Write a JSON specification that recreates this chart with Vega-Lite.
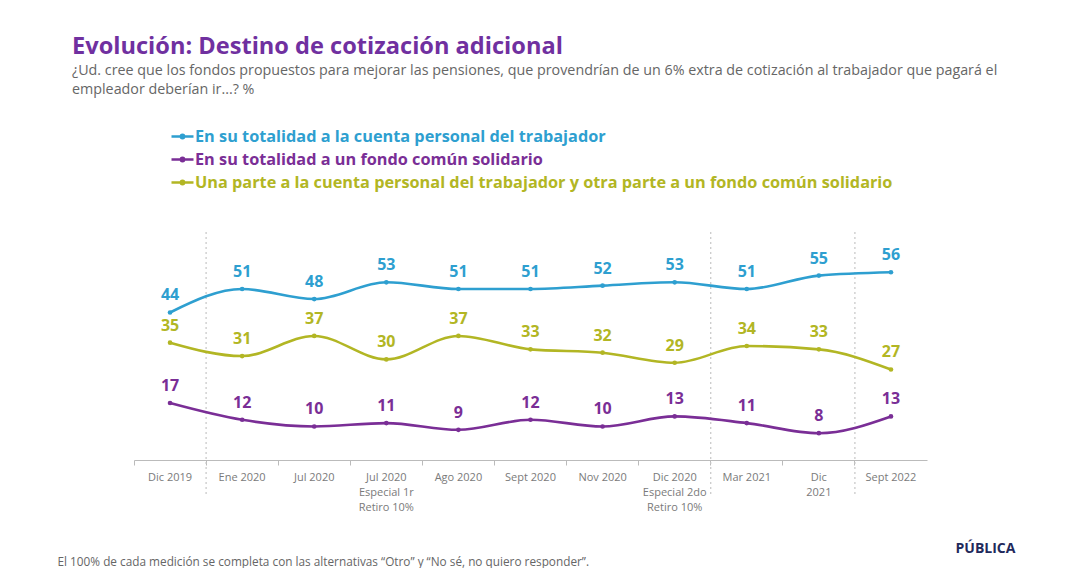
{
  "$schema": "https://vega.github.io/schema/vega-lite/v6.json",
  "autosize": {"type": "none"},
  "width": 793,
  "height": 228,
  "padding": {"left": 134, "top": 232, "right": 153, "bottom": 108},
  "background": "white",
  "config": {
    "view": {"stroke": null},
    "font": "Open Sans"
  },
  "title": {
    "text": "Evolución: Destino de cotización adicional",
    "subtitle": ["¿Ud. cree que los fondos propuestos para mejorar las pensiones, que provendrían de un 6% extra de cotización al trabajador que pagará el", "empleador deberían ir...? %"],
    "anchor": "start",
    "frame": "group",
    "dx": -62,
    "offset": 27,
    "font": "Open Sans",
    "fontSize": 23.6,
    "fontWeight": "bold",
    "color": "#7030A0",
    "subtitleFont": "Open Sans",
    "subtitleFontSize": 14.3,
    "subtitleColor": "#666666",
    "subtitleLineHeight": 18.5,
    "subtitlePadding": 6
  },
  "data": {
    "values": [
      {"fecha": "Dic 2019", "serie": "En su totalidad a la cuenta personal del trabajador", "valor": 44},
      {"fecha": "Ene 2020", "serie": "En su totalidad a la cuenta personal del trabajador", "valor": 51},
      {"fecha": "Jul 2020", "serie": "En su totalidad a la cuenta personal del trabajador", "valor": 48},
      {"fecha": "Jul 2020|Especial 1r|Retiro 10%", "serie": "En su totalidad a la cuenta personal del trabajador", "valor": 53},
      {"fecha": "Ago 2020", "serie": "En su totalidad a la cuenta personal del trabajador", "valor": 51},
      {"fecha": "Sept 2020", "serie": "En su totalidad a la cuenta personal del trabajador", "valor": 51},
      {"fecha": "Nov 2020", "serie": "En su totalidad a la cuenta personal del trabajador", "valor": 52},
      {"fecha": "Dic 2020|Especial 2do|Retiro 10%", "serie": "En su totalidad a la cuenta personal del trabajador", "valor": 53},
      {"fecha": "Mar 2021", "serie": "En su totalidad a la cuenta personal del trabajador", "valor": 51},
      {"fecha": "Dic|2021", "serie": "En su totalidad a la cuenta personal del trabajador", "valor": 55},
      {"fecha": "Sept 2022", "serie": "En su totalidad a la cuenta personal del trabajador", "valor": 56},
      {"fecha": "Dic 2019", "serie": "En su totalidad a un fondo común solidario", "valor": 17},
      {"fecha": "Ene 2020", "serie": "En su totalidad a un fondo común solidario", "valor": 12},
      {"fecha": "Jul 2020", "serie": "En su totalidad a un fondo común solidario", "valor": 10},
      {"fecha": "Jul 2020|Especial 1r|Retiro 10%", "serie": "En su totalidad a un fondo común solidario", "valor": 11},
      {"fecha": "Ago 2020", "serie": "En su totalidad a un fondo común solidario", "valor": 9},
      {"fecha": "Sept 2020", "serie": "En su totalidad a un fondo común solidario", "valor": 12},
      {"fecha": "Nov 2020", "serie": "En su totalidad a un fondo común solidario", "valor": 10},
      {"fecha": "Dic 2020|Especial 2do|Retiro 10%", "serie": "En su totalidad a un fondo común solidario", "valor": 13},
      {"fecha": "Mar 2021", "serie": "En su totalidad a un fondo común solidario", "valor": 11},
      {"fecha": "Dic|2021", "serie": "En su totalidad a un fondo común solidario", "valor": 8},
      {"fecha": "Sept 2022", "serie": "En su totalidad a un fondo común solidario", "valor": 13},
      {"fecha": "Dic 2019", "serie": "Una parte a la cuenta personal del trabajador y otra parte a un fondo común solidario", "valor": 35},
      {"fecha": "Ene 2020", "serie": "Una parte a la cuenta personal del trabajador y otra parte a un fondo común solidario", "valor": 31},
      {"fecha": "Jul 2020", "serie": "Una parte a la cuenta personal del trabajador y otra parte a un fondo común solidario", "valor": 37},
      {"fecha": "Jul 2020|Especial 1r|Retiro 10%", "serie": "Una parte a la cuenta personal del trabajador y otra parte a un fondo común solidario", "valor": 30},
      {"fecha": "Ago 2020", "serie": "Una parte a la cuenta personal del trabajador y otra parte a un fondo común solidario", "valor": 37},
      {"fecha": "Sept 2020", "serie": "Una parte a la cuenta personal del trabajador y otra parte a un fondo común solidario", "valor": 33},
      {"fecha": "Nov 2020", "serie": "Una parte a la cuenta personal del trabajador y otra parte a un fondo común solidario", "valor": 32},
      {"fecha": "Dic 2020|Especial 2do|Retiro 10%", "serie": "Una parte a la cuenta personal del trabajador y otra parte a un fondo común solidario", "valor": 29},
      {"fecha": "Mar 2021", "serie": "Una parte a la cuenta personal del trabajador y otra parte a un fondo común solidario", "valor": 34},
      {"fecha": "Dic|2021", "serie": "Una parte a la cuenta personal del trabajador y otra parte a un fondo común solidario", "valor": 33},
      {"fecha": "Sept 2022", "serie": "Una parte a la cuenta personal del trabajador y otra parte a un fondo común solidario", "valor": 27}
    ]
  },
  "encoding": {
    "x": {
      "field": "fecha",
      "type": "nominal",
      "sort": null,
      "bandPosition": 0.5,
      "scale": {
        "type": "band",
        "paddingInner": 0,
        "paddingOuter": 0,
        "domain": ["Dic 2019", "Ene 2020", "Jul 2020", "Jul 2020|Especial 1r|Retiro 10%", "Ago 2020", "Sept 2020", "Nov 2020", "Dic 2020|Especial 2do|Retiro 10%", "Mar 2021", "Dic|2021", "Sept 2022"]
      },
      "axis": {
        "title": "El 100% de cada medición se completa con las alternativas “Otro” y “No sé, no quiero responder”.",
        "titleX": -77,
        "titleY": 105,
        "titleAlign": "left",
        "titleBaseline": "alphabetic",
        "titleFont": "Open Sans",
        "titleFontSize": 11.8,
        "titleFontWeight": "normal",
        "titleColor": "#666666",
        "labelAngle": 0,
        "labelExpr": "split(datum.label, '|')",
        "bandPosition": 0,
        "labelFont": "Open Sans",
        "labelFontSize": 11,
        "labelColor": "#7a7a7a",
        "labelLineHeight": 15,
        "labelPadding": 6,
        "labelBaseline": "top",
        "labelLimit": 90,
        "domainColor": "#bbbbbb",
        "tickColor": "#bbbbbb",
        "tickSize": 5,
        "grid": false
      }
    },
    "y": {
      "field": "valor",
      "type": "quantitative",
      "scale": {"domain": [0, 68], "nice": false, "zero": false},
      "axis": {
        "title": "PÚBLICA",
        "titleAngle": 0,
        "titleX": 851,
        "titleY": 320,
        "titleAlign": "center",
        "titleBaseline": "alphabetic",
        "titleFont": "Open Sans",
        "titleFontSize": 14,
        "titleFontWeight": "bold",
        "titleColor": "#1F2A5C",
        "labels": false,
        "ticks": false,
        "domain": false,
        "grid": false
      }
    },
    "color": {
      "field": "serie",
      "type": "nominal",
      "sort": null,
      "scale": {
        "domain": ["En su totalidad a la cuenta personal del trabajador", "En su totalidad a un fondo común solidario", "Una parte a la cuenta personal del trabajador y otra parte a un fondo común solidario"],
        "range": ["#2E9FD0", "#7A2E96", "#B2B624"]
      },
      "legend": {
        "title": null,
        "orient": "none",
        "legendX": 36,
        "legendY": -108,
        "direction": "vertical",
        "labelFont": "Open Sans",
        "labelFontSize": 16.3,
        "labelFontWeight": "bold",
        "labelLimit": 900,
        "labelOffset": 0,
        "rowPadding": 2,
        "symbolType": "M -1 0 L 1 0 M 0.15 0 A 0.15 0.15 0 1 1 -0.15 0 A 0.15 0.15 0 1 1 0.15 0 Z",
        "symbolSize": 484,
        "symbolStrokeWidth": 2.5,
        "encode": {
          "labels": {"update": {"fill": {"signal": "scale('color', datum.value)"}}},
          "symbols": {"update": {"fill": {"signal": "scale('color', datum.value)"}, "stroke": {"signal": "scale('color', datum.value)"}, "strokeWidth": {"value": 2.5}}}
        }
      }
    }
  },
  "layer": [
    {
      "transform": [
        {"filter": "datum.serie == 'En su totalidad a un fondo común solidario' && (datum.fecha == 'Ene 2020' || datum.fecha == 'Mar 2021' || datum.fecha == 'Sept 2022')"}
      ],
      "mark": {"type": "rule", "strokeDash": [2, 3], "strokeWidth": 1.2},
      "encoding": {
        "x": {"field": "fecha", "type": "nominal", "sort": null, "bandPosition": 0},
        "y": {"datum": 68},
        "y2": {"datum": -11},
        "color": {"value": "#c6c6c6"}
      }
    },
    {
      "mark": {"type": "line", "interpolate": "monotone", "strokeWidth": 2.6}
    },
    {
      "mark": {"type": "point", "filled": true, "size": 22, "opacity": 1}
    },
    {
      "mark": {"type": "text", "dy": -17, "fontSize": 16, "fontWeight": "bold", "font": "Open Sans", "baseline": "middle"},
      "encoding": {"text": {"field": "valor", "type": "quantitative"}}
    }
  ]
}
